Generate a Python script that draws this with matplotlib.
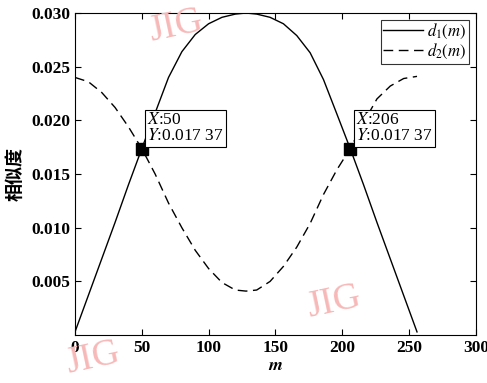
import matplotlib
import matplotlib.pyplot as plt

matplotlib.use('Agg')

plt.rcParams['font.family'] = ['Liberation Serif', 'Noto Sans CJK SC', 'DejaVu Sans']
plt.rcParams['mathtext.fontset'] = 'stix'

# values
m_values = [0, 10, 20, 30, 40, 50, 60, 70, 80, 90, 100, 110, 120, 128,
            136, 146, 156, 166, 176, 186, 196, 206, 216, 226, 236, 246, 256]
d1_values = [0.0003, 0.0037, 0.0071, 0.0105, 0.0140, 0.01737, 0.0207, 0.0240,
             0.0264, 0.0280, 0.0290, 0.0296, 0.0299, 0.0300,
             0.0299, 0.0296, 0.0290, 0.0279, 0.0263, 0.0238, 0.0206, 0.01737,
             0.0140, 0.0105, 0.0071, 0.0037, 0.0003]
d2_values = [0.0240, 0.0236, 0.0226, 0.0212, 0.0194, 0.01737, 0.0150, 0.0123,
             0.0100, 0.0079, 0.0062, 0.0049, 0.0042, 0.0041,
             0.0042, 0.0050, 0.0064, 0.0082, 0.0104, 0.0131, 0.0154, 0.01737,
             0.0198, 0.0220, 0.0232, 0.0239, 0.0241]
cross_x = [50, 206]
cross_y = [0.01737, 0.01737]
x_ticks = [0, 50, 100, 150, 200, 250, 300]
y_ticks = [0.005, 0.010, 0.015, 0.020, 0.025, 0.030]

fig = plt.figure(figsize=(4.87, 3.83), dpi=100)
ax = fig.add_axes([0.154, 0.125, 0.823, 0.841])

ax.plot(m_values, d1_values, color='black', linewidth=1.0, label='$d_1(m)$')
ax.plot(m_values, d2_values, color='black', linewidth=1.0, dashes=(7, 4),
        label='$d_2(m)$')
ax.plot(cross_x, cross_y, linestyle='none', marker='s', markersize=8.5,
        color='black')

for x, y in zip(cross_x, cross_y):
    ax.annotate(f'$X$:{x}\n$Y$:0.017 37', xy=(x, y), xytext=(4, 3),
                textcoords='offset points', ha='left', va='bottom',
                fontsize=12.5, linespacing=1.0,
                bbox=dict(boxstyle='square,pad=0.12', facecolor='white',
                          edgecolor='black', linewidth=0.8))

ax.set_xlim(0, 300)
ax.set_ylim(0, 0.030)
ax.set_xticks(x_ticks)
ax.set_yticks(y_ticks)
ax.set_yticklabels([f'{v:.3f}' for v in y_ticks])
ax.tick_params(direction='in', length=4, top=True, right=True,
               labelsize=12.5, width=0.8)
for lab in ax.get_xticklabels() + ax.get_yticklabels():
    lab.set_fontweight('bold')

ax.set_xlabel('$\\boldsymbol{m}$', fontsize=13, labelpad=1)
ax.set_ylabel('相似度', fontsize=13, fontweight='bold',
              family=['Noto Sans CJK SC'], labelpad=5)

leg = ax.legend(loc='upper right', fontsize=12, frameon=True, fancybox=False,
                edgecolor='black', handlelength=2.4, borderpad=0.15,
                labelspacing=0.05, handletextpad=0.25, borderaxespad=0.4)
leg.get_frame().set_linewidth(0.8)

# journal watermark
for wx, wy in [(0.36, 0.93), (0.19, 0.065), (0.685, 0.21)]:
    fig.text(wx, wy, 'JIG', color='#f7b8b8', fontsize=27, rotation=12,
             ha='center', va='center', zorder=0)

fig.savefig('out.png', dpi=100)
